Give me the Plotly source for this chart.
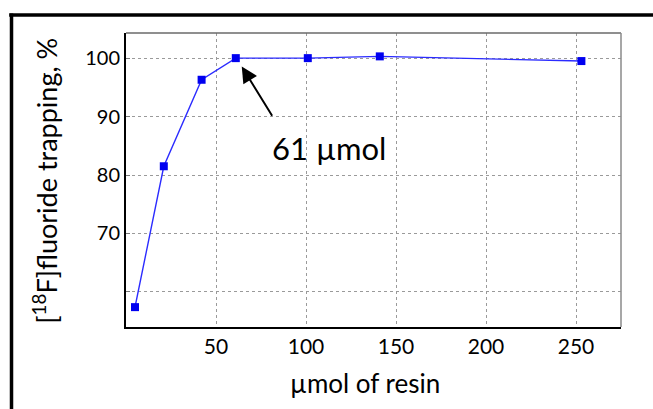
import plotly.graph_objects as go

# Data
resin_umol = [5, 21, 42, 61, 101, 141, 253]
trapping_pct = [57.4, 81.5, 96.3, 100.0, 100.0, 100.3, 99.5]

x_tick_vals = [50, 100, 150, 200, 250]
x_tick_text = ["50", "100", "150", "200", "250"]
y_tick_vals = [70, 80, 90, 100]
y_tick_text = ["70", "80", "90", "100"]
y_extra_grid = [60]  # gridline drawn without a label in the reference

FONT = "Lato"

fig = go.Figure()
fig.add_trace(go.Scatter(
    x=resin_umol, y=trapping_pct, mode="lines+markers",
    line=dict(color="#2b2bff", width=1.4),
    marker=dict(symbol="square", size=8, color="#0000f0", line=dict(width=0)),
    showlegend=False,
))

fig.update_layout(
    width=653, height=409,
    margin=dict(l=126, r=32, t=33, b=82),
    paper_bgcolor="white", plot_bgcolor="white",
    font=dict(family=FONT, color="black"),
    xaxis=dict(
        range=[0, 275], tickvals=x_tick_vals, ticktext=x_tick_text,
        showgrid=True, gridcolor="#9a9a9a", griddash="dot", gridwidth=1,
        showline=True, linecolor="black", linewidth=2,
        ticks="", tickfont=dict(size=21, family=FONT), zeroline=False,
    ),
    yaxis=dict(
        range=[54.0, 104.3], tickvals=y_tick_vals, ticktext=y_tick_text,
        showgrid=True, gridcolor="#9a9a9a", griddash="dot", gridwidth=1,
        showline=True, linecolor="black", linewidth=2,
        ticks="inside", ticklen=4, tickcolor="#777", tickwidth=1,
        tickfont=dict(size=20, family=FONT), zeroline=False,
        minor=dict(tickvals=y_extra_grid, showgrid=True, gridcolor="#9a9a9a",
                   griddash="dot", gridwidth=1, ticks="inside", ticklen=4, tickcolor="#777"),
    ),
    shapes=[
        # gray top/right frame of the plot area
        dict(type="line", xref="paper", yref="paper", x0=0, x1=1, y0=1, y1=1,
             line=dict(color="#6a6a6a", width=1.5)),
        dict(type="line", xref="paper", yref="paper", x0=1, x1=1, y0=0, y1=1,
             line=dict(color="#8a8a8a", width=1.5)),
        # outer black border (top and left)
        dict(type="line", xref="paper", yref="paper", x0=-0.236, x1=1.1, y0=1.0612, y1=1.0612,
             line=dict(color="black", width=3.5)),
        dict(type="line", xref="paper", yref="paper", x0=-0.2313, x1=-0.2313, y0=1.066, y1=-0.32,
             line=dict(color="black", width=3.5)),
    ],
    annotations=[
        dict(text="[<sup>18</sup>F]fluoride trapping, %", textangle=-90,
             xref="paper", yref="paper", x=-0.164, y=0.497,
             xanchor="center", yanchor="middle", showarrow=False,
             font=dict(size=27, family=FONT)),
        dict(text="µmol of resin", xref="paper", yref="paper", x=0.483, y=-0.19,
             xanchor="center", yanchor="middle", showarrow=False,
             font=dict(size=26, family=FONT)),
        dict(text="", x=64.3, y=98.56, xref="x", yref="y",
             ax=81.7, ay=89.9, axref="x", ayref="y",
             showarrow=True, arrowhead=2, arrowsize=1.6, arrowwidth=2, arrowcolor="black"),
        dict(text="61 µmol", x=112.8, y=84.6, xref="x", yref="y",
             xanchor="center", yanchor="middle", showarrow=False,
             font=dict(size=31, family=FONT)),
    ],
)

fig.write_html("out.html")
